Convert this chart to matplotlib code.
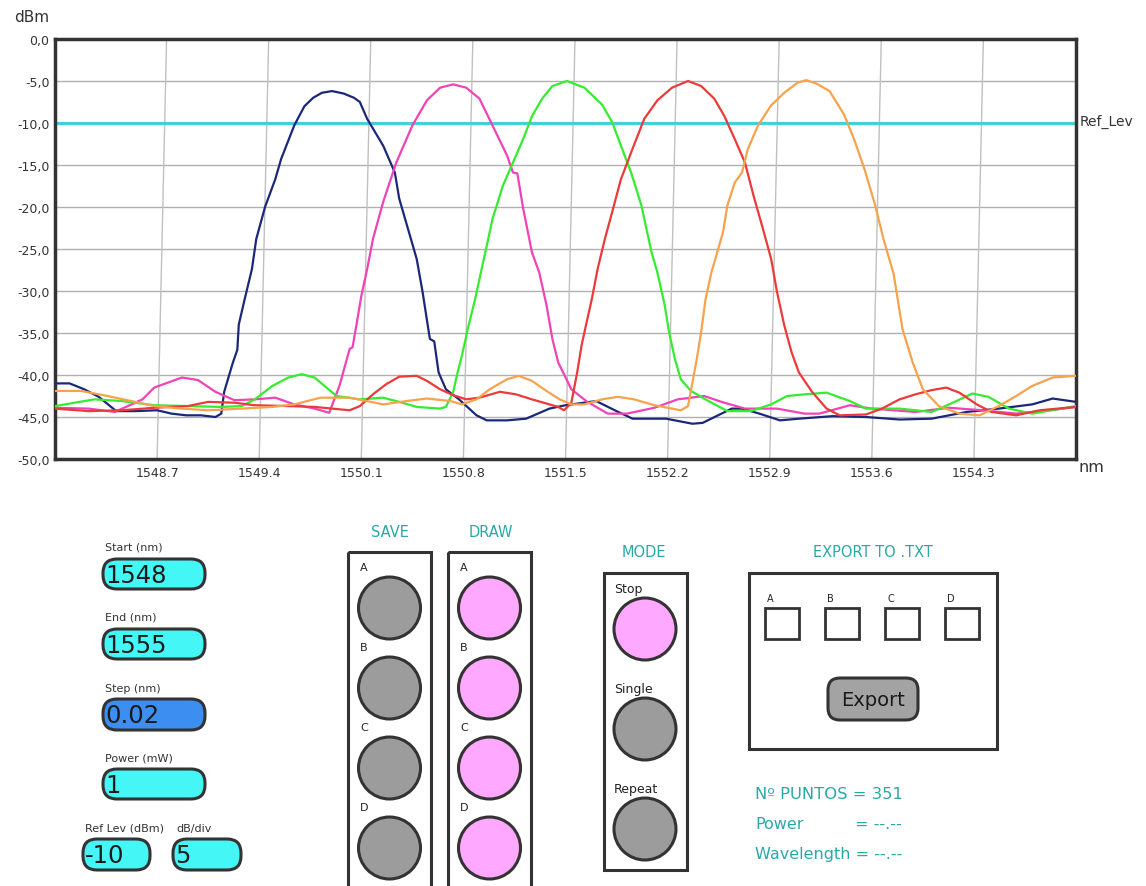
import matplotlib
matplotlib.use("Agg")
import matplotlib.pyplot as plt
from matplotlib.patches import FancyBboxPatch, Circle, Rectangle

plt.rcParams['font.family'] = ['DejaVu Sans']

# ---------------- data ----------------
wl_navy = [1548.00, 1548.10, 1548.20, 1548.30, 1548.42, 1548.55, 1548.70, 1548.80, 1548.90, 1549.00,
           1549.10, 1549.14, 1549.16, 1549.22, 1549.25, 1549.26, 1549.30, 1549.35, 1549.38, 1549.44,
           1549.51, 1549.55, 1549.64, 1549.71, 1549.77, 1549.83, 1549.90, 1549.98, 1550.05, 1550.09,
           1550.14, 1550.25, 1550.33, 1550.36, 1550.42, 1550.48, 1550.52, 1550.57, 1550.60, 1550.63,
           1550.68, 1550.77, 1550.89, 1550.96, 1551.10, 1551.23, 1551.39, 1551.50, 1551.71, 1551.85,
           1551.96, 1552.19, 1552.37, 1552.44, 1552.64, 1552.71, 1552.83, 1552.97, 1553.10, 1553.33,
           1553.56, 1553.79, 1554.01, 1554.25, 1554.47, 1554.70, 1554.84, 1555.00]
p_navy = [-41.0, -41.0, -41.7, -42.6, -44.3, -44.3, -44.2, -44.6, -44.8, -44.8,
          -45.0, -44.6, -42.0, -38.5, -37.0, -34.0, -31.0, -27.4, -23.8, -20.0,
          -16.7, -14.3, -10.3, -8.0, -7.0, -6.4, -6.2, -6.5, -7.0, -7.5,
          -9.5, -12.7, -15.9, -19.0, -22.6, -26.2, -30.1, -35.7, -36.0, -39.7,
          -41.7, -42.9, -44.8, -45.4, -45.4, -45.2, -44.0, -43.6, -43.1, -44.3,
          -45.2, -45.2, -45.8, -45.7, -44.0, -44.0, -44.6, -45.4, -45.2, -44.9,
          -45.0, -45.3, -45.2, -44.4, -44.0, -43.5, -42.8, -43.2]

wl_pink = [1548.00, 1548.23, 1548.41, 1548.60, 1548.68, 1548.87, 1548.98, 1549.10, 1549.23, 1549.37,
           1549.51, 1549.64, 1549.78, 1549.88, 1549.95, 1550.02, 1550.04, 1550.07, 1550.10, 1550.14,
           1550.18, 1550.25, 1550.34, 1550.45, 1550.55, 1550.64, 1550.73, 1550.82, 1550.91, 1551.00,
           1551.10, 1551.14, 1551.17, 1551.21, 1551.27, 1551.32, 1551.37, 1551.41, 1551.45, 1551.54,
           1551.65, 1551.79, 1551.92, 1552.11, 1552.27, 1552.45, 1552.57, 1552.73, 1552.95, 1553.14,
           1553.24, 1553.45, 1553.60, 1553.90, 1554.13, 1554.36, 1554.59, 1554.82, 1555.00]
p_pink = [-43.9, -44.0, -44.4, -42.9, -41.5, -40.3, -40.6, -42.0, -43.0, -42.9,
          -42.7, -43.5, -44.0, -44.5, -41.3, -36.9, -36.7, -33.7, -30.6, -27.4,
          -23.8, -19.4, -14.7, -10.3, -7.3, -5.8, -5.4, -5.8, -7.1, -10.3,
          -13.9, -15.9, -16.0, -20.2, -25.4, -27.8, -31.7, -35.7, -38.5, -41.7,
          -43.2, -44.6, -44.6, -43.9, -42.9, -42.5, -43.2, -44.0, -44.0, -44.6,
          -44.6, -43.6, -44.0, -44.4, -43.9, -44.2, -44.6, -44.2, -43.8]

wl_green = [1548.00, 1548.27, 1548.46, 1548.68, 1548.91, 1549.14, 1549.28, 1549.37, 1549.49, 1549.60,
            1549.69, 1549.78, 1549.82, 1549.93, 1550.09, 1550.25, 1550.36, 1550.48, 1550.64, 1550.68,
            1550.73, 1550.76, 1550.79, 1550.83, 1550.88, 1550.92, 1550.96, 1551.00, 1551.07, 1551.14,
            1551.21, 1551.27, 1551.34, 1551.41, 1551.51, 1551.63, 1551.75, 1551.82, 1551.88, 1551.95,
            1552.02, 1552.09, 1552.13, 1552.18, 1552.21, 1552.25, 1552.29, 1552.36, 1552.47, 1552.61,
            1552.77, 1552.91, 1553.02, 1553.14, 1553.29, 1553.45, 1553.56, 1553.79, 1554.01, 1554.13,
            1554.29, 1554.40, 1554.54, 1554.70, 1555.00]
p_green = [-43.7, -42.9, -43.1, -43.6, -43.7, -43.8, -43.7, -42.9, -41.3, -40.3,
           -39.9, -40.3, -40.9, -42.5, -42.9, -42.7, -43.2, -43.8, -44.0, -43.8,
           -42.0, -39.7, -37.7, -34.5, -31.0, -27.8, -24.6, -21.4, -17.5, -14.7,
           -11.9, -9.2, -7.1, -5.6, -5.0, -5.8, -7.8, -9.9, -12.7, -15.9,
           -19.8, -25.4, -27.8, -31.7, -34.9, -38.1, -40.5, -41.9, -43.0, -44.3,
           -44.3, -43.5, -42.5, -42.3, -42.1, -43.1, -44.0, -44.0, -44.4, -43.5,
           -42.2, -42.6, -44.0, -44.6, -43.7]

wl_red = [1548.00, 1548.23, 1548.46, 1548.68, 1548.91, 1549.05, 1549.23, 1549.37, 1549.60, 1549.78,
          1549.90, 1550.02, 1550.09, 1550.18, 1550.27, 1550.36, 1550.48, 1550.55, 1550.64, 1550.73,
          1550.82, 1550.91, 1551.05, 1551.16, 1551.27, 1551.39, 1551.45, 1551.49, 1551.54, 1551.58,
          1551.61, 1551.64, 1551.68, 1551.72, 1551.77, 1551.82, 1551.88, 1551.95, 1552.04, 1552.13,
          1552.23, 1552.34, 1552.43, 1552.52, 1552.59, 1552.66, 1552.73, 1552.79, 1552.86, 1552.91,
          1552.95, 1553.00, 1553.05, 1553.10, 1553.19, 1553.29, 1553.38, 1553.56, 1553.67, 1553.79,
          1553.90, 1554.01, 1554.11, 1554.20, 1554.32, 1554.42, 1554.59, 1554.75, 1555.00]
p_red = [-44.0, -44.3, -44.2, -43.9, -43.7, -43.2, -43.3, -43.6, -43.7, -43.8,
         -44.0, -44.2, -43.7, -42.3, -41.1, -40.2, -40.1, -40.7, -41.7, -42.4,
         -42.9, -42.7, -42.0, -42.3, -42.9, -43.5, -43.8, -44.2, -43.3, -39.7,
         -36.5, -34.1, -31.0, -27.4, -23.8, -20.6, -16.7, -13.5, -9.5, -7.3,
         -5.8, -5.0, -5.6, -7.1, -9.2, -11.9, -14.7, -18.7, -23.0, -26.2,
         -30.1, -34.1, -37.3, -39.7, -42.0, -44.0, -44.8, -44.7, -44.0, -42.9,
         -42.3, -41.8, -41.5, -42.1, -43.5, -44.4, -44.8, -44.2, -43.8]

wl_orange = [1548.00, 1548.18, 1548.36, 1548.55, 1548.68, 1548.87, 1549.05, 1549.28, 1549.49, 1549.64,
             1549.82, 1550.02, 1550.14, 1550.25, 1550.41, 1550.55, 1550.71, 1550.79, 1550.89, 1550.98,
             1551.10, 1551.18, 1551.27, 1551.37, 1551.46, 1551.54, 1551.63, 1551.75, 1551.86, 1551.97,
             1552.11, 1552.23, 1552.29, 1552.34, 1552.37, 1552.40, 1552.43, 1552.46, 1552.50, 1552.54,
             1552.58, 1552.61, 1552.66, 1552.71, 1552.75, 1552.82, 1552.91, 1553.00, 1553.09, 1553.15,
             1553.22, 1553.31, 1553.41, 1553.48, 1553.55, 1553.62, 1553.68, 1553.75, 1553.81, 1553.88,
             1553.95, 1554.06, 1554.20, 1554.34, 1554.47, 1554.59, 1554.70, 1554.84, 1555.00]
p_orange = [-41.9, -41.9, -42.5, -43.2, -43.7, -44.0, -44.2, -44.0, -43.8, -43.5,
            -42.7, -42.7, -43.1, -43.5, -43.1, -42.8, -43.1, -43.5, -42.9, -41.7,
            -40.5, -40.1, -40.7, -41.9, -42.9, -43.5, -43.5, -42.9, -42.6, -42.9,
            -43.6, -44.0, -44.2, -43.7, -40.9, -38.1, -34.9, -31.0, -27.8, -25.4,
            -23.0, -19.8, -17.1, -15.9, -13.1, -10.3, -7.9, -6.4, -5.2, -4.9,
            -5.3, -6.2, -9.0, -12.0, -15.5, -19.6, -23.8, -28.0, -34.5, -38.5,
            -41.7, -43.7, -44.6, -44.8, -43.7, -42.5, -41.3, -40.3, -40.1]

ref_level = -10
x_ticks = [1548.7, 1549.4, 1550.1, 1550.8, 1551.5, 1552.2, 1552.9, 1553.6, 1554.3]
x_tick_labels = ["1548.7", "1549.4", "1550.1", "1550.8", "1551.5", "1552.2", "1552.9", "1553.6", "1554.3"]
y_ticks = [0, -5, -10, -15, -20, -25, -30, -35, -40, -45, -50]
y_tick_labels = ["0,0", "-5,0", "-10,0", "-15,0", "-20,0", "-25,0", "-30,0", "-35,0", "-40,0", "-45,0", "-50,0"]

series = [
    (wl_navy, p_navy, "#1b2877"),
    (wl_pink, p_pink, "#f043b6"),
    (wl_green, p_green, "#35ec2e"),
    (wl_red, p_red, "#ec3a3a"),
    (wl_orange, p_orange, "#f7a24c"),
]

# ---------------- figure ----------------
W, H = 1146, 887
fig = plt.figure(figsize=(W / 100, H / 100), dpi=100)
fig.patch.set_facecolor("white")

ax = fig.add_axes([55 / W, 1 - 460 / H, (1076 - 55) / W, (460 - 40) / H])
ax.set_xlim(1548, 1555)
ax.set_ylim(-50, 0)
ax.set_yticks(y_ticks)
ax.set_yticklabels(y_tick_labels)
ax.set_xticks(x_ticks)
ax.set_xticklabels(x_tick_labels)
ax.tick_params(length=0, labelsize=9, colors="#333333", pad=5)
ax.tick_params(axis="y", pad=4)
for s in ax.spines.values():
    s.set_color("#333333")
    s.set_linewidth(2.5)
ax.set_axisbelow(True)
# horizontal grid
for yv in y_ticks[1:-1]:
    ax.axhline(yv, color="#b0b0b0", lw=1.0, zorder=0)
# slightly slanted vertical grid (as in the screenshot)
for xv in x_ticks:
    ax.plot([xv, xv + 0.065], [-50, 0], color="#c0c0c0", lw=1.0, zorder=0)

ax.axhline(ref_level, color="#45cfd6", lw=2.3, zorder=2)
for wl, pw, col in series:
    ax.plot(wl, pw, color=col, lw=1.6, zorder=3, solid_joinstyle="round")

# ---------------- overlay (pixel coordinates) ----------------
ov = fig.add_axes([0, 0, 1, 1], zorder=5)
ov.set_xlim(0, W)
ov.set_ylim(H, 0)
ov.axis("off")
ov.patch.set_alpha(0)

dark = "#333333"
teal = "#2aa8a8"

ov.text(14, 18, "dBm", fontsize=11, color=dark, va="center", ha="left")
ov.text(1078, 468, "nm", fontsize=11.5, color=dark, va="center", ha="left")
ov.text(1080, 122, "Ref_Lev", fontsize=10, color=dark, va="center", ha="left")

def rbox(x0, y0, x1, y1, fc, r=14, lw=2.2, ec=dark):
    p = FancyBboxPatch((x0, y0), x1 - x0, y1 - y0,
                       boxstyle=f"round,pad=0,rounding_size={r}",
                       fc=fc, ec=ec, lw=lw)
    ov.add_patch(p)

cyan = "#44f6f6"
blue = "#3c8ff0"
# input fields
fields = [
    ("Start (nm)", 105, 548, 103, 560, 205, 590, "1548", cyan),
    ("End (nm)", 105, 618, 103, 630, 205, 660, "1555", cyan),
    ("Step (nm)", 105, 689, 103, 700, 205, 731, "0.02", blue),
    ("Power (mW)", 105, 759, 103, 770, 205, 800, "1", cyan),
    ("Ref Lev (dBm)", 85, 829, 83, 840, 150, 871, "-10", cyan),
    ("dB/div", 176, 829, 173, 840, 241, 871, "5", cyan),
]
for lab, lx, ly, x0, y0, x1, y1, val, fc in fields:
    ov.text(lx, ly, lab, fontsize=8, color=dark, va="center", ha="left")
    rbox(x0, y0, x1, y1, fc)
    ov.text(x0 + 2, (y0 + y1) / 2 + 1, val, fontsize=17.5, color="#1a1a1a", va="center", ha="left")

# SAVE / DRAW columns
gray = "#9c9c9c"
pinkf = "#ffa8ff"
for title, cx, bx0, bx1, fc in [("SAVE", 390, 348, 431, gray), ("DRAW", 491, 448, 531, pinkf)]:
    ov.text(cx, 533, title, fontsize=10.5, color=teal, ha="center", va="center")
    ov.add_patch(Rectangle((bx0, 553), bx1 - bx0, 345, fc="none", ec=dark, lw=2.2))
    for i, letter in enumerate(["A", "B", "C", "D"]):
        ov.text(bx0 + 12, 568 + 80 * i, letter, fontsize=8, color="#222222", ha="left", va="center")
        ov.add_patch(Circle(((bx0 + bx1) / 2, 609 + 80 * i), 31, fc=fc, ec=dark, lw=2.2))

# MODE column
ov.text(644, 553, "MODE", fontsize=10.5, color=teal, ha="center", va="center")
ov.add_patch(Rectangle((604, 574), 83, 297, fc="none", ec=dark, lw=2.2))
for i, (lab, fc) in enumerate([("Stop", pinkf), ("Single", gray), ("Repeat", gray)]):
    ov.text(614, 590 + 100 * i, lab, fontsize=9, color="#222222", ha="left", va="center")
    ov.add_patch(Circle((645, 630 + 100 * i), 31, fc=fc, ec=dark, lw=2.2))

# EXPORT panel
ov.text(873, 553, "EXPORT TO .TXT", fontsize=10.5, color=teal, ha="center", va="center")
ov.add_patch(Rectangle((749, 574), 248, 176, fc="none", ec=dark, lw=2.2))
for i, letter in enumerate(["A", "B", "C", "D"]):
    x0 = 765 + 60 * i
    ov.text(x0 + 2, 599, letter, fontsize=7, color="#222222", ha="left", va="center")
    ov.add_patch(Rectangle((x0, 609), 34, 31, fc="white", ec=dark, lw=2.0))
rbox(828, 679, 918, 721, "#a3a3a3", r=12)
ov.text(873, 701, "Export", fontsize=14, color="#1a1a1a", ha="center", va="center")

# info text
ov.text(755, 795, "Nº PUNTOS = 351", fontsize=11.8, color=teal, ha="left", va="center")
ov.text(755, 825, "Power", fontsize=11.5, color=teal, ha="left", va="center")
ov.text(855, 825, "= --.--", fontsize=11.5, color=teal, ha="left", va="center")
ov.text(755, 855, "Wavelength = --.--", fontsize=11.5, color=teal, ha="left", va="center")

fig.savefig("out.png", dpi=100, facecolor="white")
